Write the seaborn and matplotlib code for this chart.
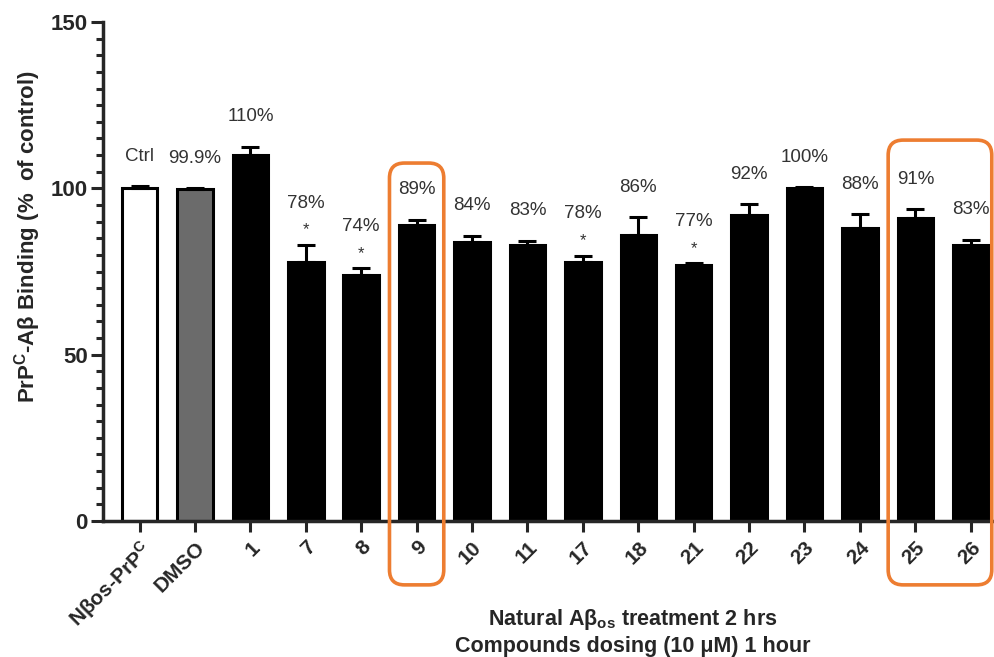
import numpy as np
import pandas as pd
import seaborn as sns
import matplotlib
matplotlib.use("Agg")
import matplotlib.pyplot as plt
from matplotlib.patches import FancyBboxPatch
from matplotlib.ticker import MultipleLocator

# ---- data ----
groups = ["Nβos-PrP$^{\\mathregular{C}}$", "DMSO", "1", "7", "8", "9", "10", "11",
          "17", "18", "21", "22", "23", "24", "25", "26"]
binding = [100, 99.9, 110, 78, 74, 89, 84, 83, 78, 86, 77, 92, 100, 88, 91, 83]
sem = [0.7, 0.2, 2.5, 5.0, 2.0, 1.5, 1.8, 1.2, 1.8, 5.3, 0.5, 3.3, 0.4, 4.3, 2.7, 1.5]
value_labels = ["Ctrl", "99.9%", "110%", "78%", "74%", "89%", "84%", "83%", "78%",
                "86%", "77%", "92%", "100%", "88%", "91%", "83%"]
significant = [False, False, False, True, True, False, False, False, True,
               False, True, False, False, False, False, False]
fill_colors = ["#ffffff", "#6b6b6b"] + ["#000000"] * 14
highlighted = [[5], [14, 15]]

df = pd.DataFrame({"group": groups, "binding": binding})

sns.set_theme(style="ticks")
plt.rcParams["font.family"] = ["Liberation Sans", "DejaVu Sans"]
plt.rcParams["mathtext.fontset"] = "custom"
plt.rcParams["mathtext.rm"] = "Liberation Sans"
plt.rcParams["mathtext.bf"] = "Liberation Sans:bold"

fig = plt.figure(figsize=(9.94, 6.57), dpi=100)
ax = fig.add_axes([103 / 994, 1 - 521 / 657, 1 - 103 / 994, (521 - 22) / 657])

sns.barplot(data=df, x="group", y="binding", hue="group", palette=fill_colors,
            legend=False, width=0.64, edgecolor="black", linewidth=2.2,
            errorbar=None, ax=ax, saturation=1)

xpos = np.arange(len(groups))
ax.errorbar(xpos, binding, yerr=[np.zeros(len(sem)), sem], fmt="none",
            ecolor="black", elinewidth=2.2, capsize=6.5, capthick=2.2, zorder=3)

# value annotations above each bar
for i, (v, e, lab, sig) in enumerate(zip(binding, sem, value_labels, significant)):
    top = v + e
    if sig:
        ax.text(i, top + 4.5, "*", ha="center", va="center", fontsize=12,
                color="#333333")
        ax.text(i, top + 12.5, lab, ha="center", va="center", fontsize=13.5,
                color="#333333")
    else:
        ax.text(i, top + 9, lab, ha="center", va="center", fontsize=13.5,
                color="#333333")

ax.set_ylim(0, 150)
ax.set_xlim(-0.66, 15.42)
ax.yaxis.set_major_locator(MultipleLocator(50))
ax.yaxis.set_minor_locator(MultipleLocator(5))
ax.set_xlabel("")
ax.set_ylabel("")

for side in ["top", "right"]:
    ax.spines[side].set_visible(False)
for side in ["left", "bottom"]:
    ax.spines[side].set_linewidth(2.5)

ax.tick_params(axis="y", which="major", length=9, width=2.2, labelsize=16, pad=2)
ax.tick_params(axis="y", which="minor", length=5, width=2.2)
ax.tick_params(axis="x", which="major", length=8, width=2.2, labelsize=15, pad=4)
for t in ax.get_yticklabels():
    t.set_fontweight("bold")
for t in ax.get_xticklabels():
    t.set_fontweight("bold")
    t.set_rotation(45)
    t.set_ha("right")
    t.set_va("top")
    t.set_rotation_mode("anchor")

fig.text(28 / 994, 1 - 236 / 657, "PrP$^{\\mathbf{C}}$-Aβ Binding (%  of control)",
         rotation=90, ha="center", va="center", fontsize=16, fontweight="bold")
fig.text(633 / 994, 1 - 632 / 657,
         "Natural Aβ$_{\\mathbf{os}}$ treatment 2 hrs\nCompounds dosing (10 μM) 1 hour",
         ha="center", va="center", fontsize=15.5, fontweight="bold", linespacing=1.3)

# rounded highlight frames around selected compounds
for idx in highlighted:
    x0 = min(idx) - 0.49
    x1 = max(idx) + (0.49 if len(idx) == 1 else 0.38)
    y1 = 107.6 if len(idx) == 1 else 114.5
    y0 = -19.2
    box = FancyBboxPatch((x0, y0), x1 - x0, y1 - y0,
                         boxstyle="round,pad=0,rounding_size=0.27",
                         mutation_aspect=16.7, fill=False,
                         edgecolor="#ed7d31", linewidth=2.6,
                         transform=ax.transData, clip_on=False, zorder=5)
    ax.add_patch(box)

fig.savefig("out.png", dpi=100)
